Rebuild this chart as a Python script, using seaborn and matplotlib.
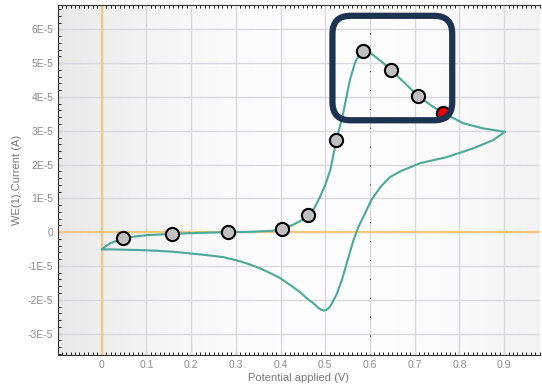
import numpy as np
import pandas as pd
import matplotlib
matplotlib.use("Agg")
import matplotlib.pyplot as plt
from matplotlib.patches import FancyBboxPatch
from matplotlib.ticker import FixedLocator, MultipleLocator
import seaborn as sns

# Varredura direta (0 -> 0.9 V)
fwd_v = [0.000, 0.008, 0.019, 0.048, 0.100, 0.157, 0.220, 0.283, 0.332, 0.380,
         0.404, 0.428, 0.448, 0.462, 0.476, 0.488, 0.500, 0.511, 0.525, 0.540,
         0.555, 0.567, 0.578, 0.586, 0.595, 0.609, 0.628, 0.648, 0.680, 0.708,
         0.740, 0.764, 0.790, 0.809, 0.853, 0.902]
fwd_i = [-0.51e-5, -0.42e-5, -0.33e-5, -0.17e-5, -0.09e-5, -0.05e-5, -0.02e-5, 0.00e-5, 0.01e-5, 0.04e-5,
         0.09e-5, 0.22e-5, 0.36e-5, 0.50e-5, 0.72e-5, 1.04e-5, 1.40e-5, 1.83e-5, 2.72e-5, 3.52e-5,
         4.50e-5, 5.03e-5, 5.30e-5, 5.37e-5, 5.36e-5, 5.22e-5, 5.02e-5, 4.79e-5, 4.38e-5, 4.02e-5,
         3.72e-5, 3.52e-5, 3.35e-5, 3.22e-5, 3.07e-5, 2.97e-5]

# Varredura reversa (0.9 -> 0 V)
rev_v = [0.902, 0.875, 0.831, 0.772, 0.712, 0.668, 0.645, 0.623, 0.603, 0.589,
         0.574, 0.563, 0.555, 0.548, 0.537, 0.525, 0.511, 0.503, 0.496, 0.486,
         0.473, 0.458, 0.444, 0.420, 0.399, 0.375, 0.354, 0.332, 0.309, 0.272,
         0.235, 0.198, 0.160, 0.123, 0.085, 0.048, 0.020, 0.000]
rev_i = [2.97e-5, 2.72e-5, 2.48e-5, 2.22e-5, 2.04e-5, 1.80e-5, 1.63e-5, 1.33e-5, 0.95e-5, 0.56e-5,
         0.15e-5, -0.24e-5, -0.60e-5, -0.92e-5, -1.42e-5, -1.85e-5, -2.20e-5, -2.30e-5, -2.32e-5, -2.26e-5,
         -2.10e-5, -1.95e-5, -1.78e-5, -1.55e-5, -1.36e-5, -1.20e-5, -1.07e-5, -0.96e-5, -0.86e-5, -0.74e-5,
         -0.68e-5, -0.63e-5, -0.58e-5, -0.55e-5, -0.53e-5, -0.52e-5, -0.51e-5, -0.51e-5]

# Pontos marcados
pts_v = [0.048, 0.157, 0.283, 0.404, 0.462, 0.525, 0.585, 0.648, 0.708]
pts_i = [-0.17e-5, -0.05e-5, 0.00e-5, 0.09e-5, 0.50e-5, 2.72e-5, 5.36e-5, 4.79e-5, 4.02e-5]
red_v = [0.764]
red_i = [3.52e-5]

xticks = [0, 0.1, 0.2, 0.3, 0.4, 0.5, 0.6, 0.7, 0.8, 0.9]
xlabels = ["0", "0.1", "0.2", "0.3", "0.4", "0.5", "0.6", "0.7", "0.8", "0.9"]
yticks = [-3e-5, -2e-5, -1e-5, 0, 1e-5, 2e-5, 3e-5, 4e-5, 5e-5, 6e-5]
ylabels = ["-3E-5", "-2E-5", "-1E-5", "0", "1E-5", "2E-5", "3E-5", "4E-5", "5E-5", "6E-5"]

sns.set_style("white")
plt.rcParams['font.family'] = ['Liberation Sans', 'DejaVu Sans']

fig = plt.figure(figsize=(5.42, 3.84), dpi=100)
ax = fig.add_axes([0.107, 0.075, 0.889, 0.912])

xmin, xmax = -0.098, 0.98
ymin, ymax = -3.64e-5, 6.72e-5
ax.set_xlim(xmin, xmax)
ax.set_ylim(ymin, ymax)

# fundo em degrade (cinza nas bordas, branco no meio)
grad = np.linspace(0, 1, 256)
shade = 1 - 0.085 * ((grad - 0.58) / 0.58) ** 2
bg = np.dstack([shade * 0.996, shade * 0.996, shade * 1.0])[0]
bg = np.clip(bg, 0, 1)[None, :, :]
ax.imshow(bg, extent=[0, 1, 0, 1], transform=ax.transAxes, aspect='auto', zorder=0)

# grade
for xv in xticks:
    ax.axvline(xv, color='#d9d9dd', lw=1.0, zorder=1)
for yv in yticks:
    ax.axhline(yv, color='#d9d9dd', lw=1.0, zorder=1)
ax.axvline(0, color='#f2c97a', lw=1.6, zorder=2)
ax.axhline(0, color='#f2c97a', lw=1.6, zorder=2)
ax.axvline(0.6, color='#444444', lw=0.8, ls=(0, (1, 16)), zorder=2)

fwd = pd.DataFrame({'v': fwd_v, 'i': fwd_i})
rev = pd.DataFrame({'v': rev_v, 'i': rev_i})
sns.lineplot(data=fwd, x='v', y='i', sort=False, color='#4aa99a', lw=1.5, ax=ax, zorder=3)
sns.lineplot(data=rev, x='v', y='i', sort=False, color='#4aa99a', lw=1.5, ax=ax, zorder=3)

sns.scatterplot(x=pts_v, y=pts_i, s=90, color='#c0c0c0', edgecolor='black', linewidth=1.5, ax=ax, zorder=4)
sns.scatterplot(x=red_v, y=red_i, s=90, color='#ee0000', edgecolor='black', linewidth=1.5, ax=ax, zorder=4)

# caixa de destaque arredondada
xpp = (xmax - xmin) / 482
ypp = (ymax - ymin) / 350
box = FancyBboxPatch((0.516, 3.31e-5), 0.268, 3.09e-5,
                     boxstyle="round,pad=0,rounding_size=%f" % (18 * xpp),
                     mutation_aspect=ypp / xpp,
                     fill=False, edgecolor='#1c3352', lw=4.5, zorder=5)
ax.add_patch(box)

ax.xaxis.set_major_locator(FixedLocator(xticks))
ax.set_xticklabels(xlabels)
ax.yaxis.set_major_locator(FixedLocator(yticks))
ax.set_yticklabels(ylabels)
ax.xaxis.set_minor_locator(MultipleLocator(0.01))
ax.yaxis.set_minor_locator(MultipleLocator(0.2e-5))
ax.tick_params(which='major', direction='in', length=3, color='black', labelcolor='#8a8a8a',
               labelsize=7.5, top=True, right=False, left=True, bottom=True)
ax.tick_params(which='minor', direction='in', length=2, color='black', top=True, left=True, bottom=True)
for s in ax.spines.values():
    s.set_color('#333333')
    s.set_linewidth(0.8)
ax.spines['right'].set_visible(False)

ax.set_xlabel('Potential applied (V)', color='#777777', fontsize=8, labelpad=2)
ax.set_ylabel('WE(1).Current (A)', color='#777777', fontsize=8, labelpad=4)

fig.savefig('out.png', dpi=100)
